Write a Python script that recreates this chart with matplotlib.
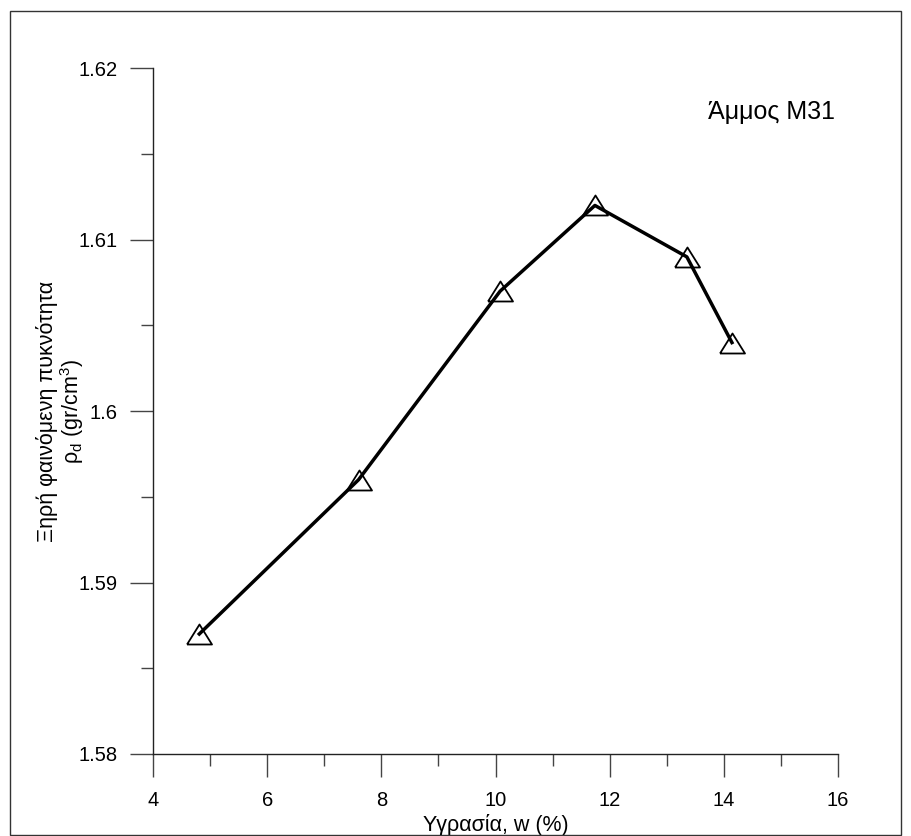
import matplotlib
matplotlib.use("Agg")
import matplotlib.pyplot as plt
from matplotlib.patches import Rectangle
from matplotlib.ticker import MultipleLocator

plt.rcParams['font.family'] = ['Liberation Sans', 'DejaVu Sans']

## Donnees : humidite (%) et densite seche (gr/cm3)
w = [4.81, 7.6, 10.08, 11.74, 13.35, 14.14]
rho_d = [1.587, 1.596, 1.607, 1.612, 1.609, 1.604]

xticks = [4, 6, 8, 10, 12, 14, 16]
yticks = [1.58, 1.59, 1.6, 1.61, 1.62]
yticklabels = ["1.58", "1.59", "1.6", "1.61", "1.62"]

fig = plt.figure(figsize=(9.11, 8.36), dpi=100)
ax = fig.add_axes([0.168, 0.0981, 0.752, 0.8202])

# cadre autour de la figure
fig.patches.append(Rectangle((9.5/911, 1.5/836), (901-9.5)/911, (825.5-1.5)/836,
                             transform=fig.transFigure, fill=False,
                             edgecolor='#333333', linewidth=1.0))

# triangle ouvert
tri = [(-1, -0.8), (1, -0.8), (0, 0.8), (-1, -0.8)]
ax.plot(w, rho_d, color='black', linewidth=2.5, marker=tri, markersize=18,
        markerfacecolor='none', markeredgecolor='black', markeredgewidth=1.3)

ax.set_xlim(4, 16)
ax.set_ylim(1.58, 1.62)
ax.set_xticks(xticks)
ax.set_yticks(yticks)
ax.set_yticklabels(yticklabels)
ax.xaxis.set_minor_locator(MultipleLocator(1))
ax.yaxis.set_minor_locator(MultipleLocator(0.005))

for s in ['top', 'right']:
    ax.spines[s].set_visible(False)
for s in ['left', 'bottom']:
    ax.spines[s].set_linewidth(1.0)
    ax.spines[s].set_color('#222222')

ax.tick_params(which='major', direction='out', length=16.5, width=1.0,
               color='#444444', labelsize=14.5, pad=10)
ax.tick_params(which='minor', direction='out', length=8.5, width=1.0,
               color='#444444')
ax.tick_params(axis='y', which='major', pad=9)

ax.set_xlabel("Υγρασία, w (%)", fontsize=15.5, labelpad=3)
ax.set_ylabel("Ξηρή φαινόμενη πυκνότητα\n$\\mathregular{ρ_d}$ (gr/cm$\\mathregular{^3}$)",
              fontsize=15.5, labelpad=-5.5, linespacing=1.0)

ax.text(0.9956, 0.936, "Άμμος M31", transform=ax.transAxes, fontsize=18,
        ha='right', va='center')

fig.savefig("out.png", dpi=100)
